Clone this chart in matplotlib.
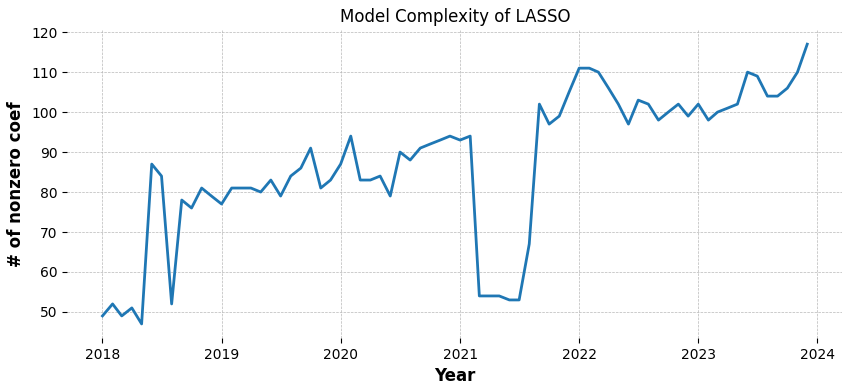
import matplotlib
matplotlib.use("Agg")
import matplotlib.pyplot as plt
import pandas as pd

# Monthly number of nonzero LASSO coefficients, Jan 2018 - Dec 2023
months = pd.date_range("2018-01-01", "2023-12-01", freq="MS")
nonzero = [
    49, 52, 49, 51, 47, 87, 84, 52, 78, 76, 81, 79,        # 2018
    77, 81, 81, 81, 80, 83, 79, 84, 86, 91, 81, 83,        # 2019
    87, 94, 83, 83, 84, 79, 90, 88, 91, 92, 93, 94,        # 2020
    93, 94, 54, 54, 54, 53, 53, 67, 102, 97, 99, 105,      # 2021
    111, 111, 110, 106, 102, 97, 103, 102, 98, 100, 102, 99,  # 2022
    102, 98, 100, 101, 102, 110, 109, 104, 104, 106, 110, 117,  # 2023
]

fig, ax = plt.subplots(figsize=(8.51, 3.92), dpi=100)
fig.subplots_adjust(left=0.079, right=0.99, top=0.923, bottom=0.138)

ax.plot(months, nonzero, color="#1f77b4", linewidth=2)

ax.grid(True, linestyle="--", linewidth=0.5, color="#b8b8b8")
for s in ax.spines.values():
    s.set_visible(False)

ax.set_title("Model Complexity of LASSO", fontsize=12)
ax.set_xlabel("Year", fontsize=12, fontweight="bold")
ax.set_ylabel("# of nonzero coef", fontsize=12, fontweight="bold")

plt.savefig("out.png", dpi=100)
